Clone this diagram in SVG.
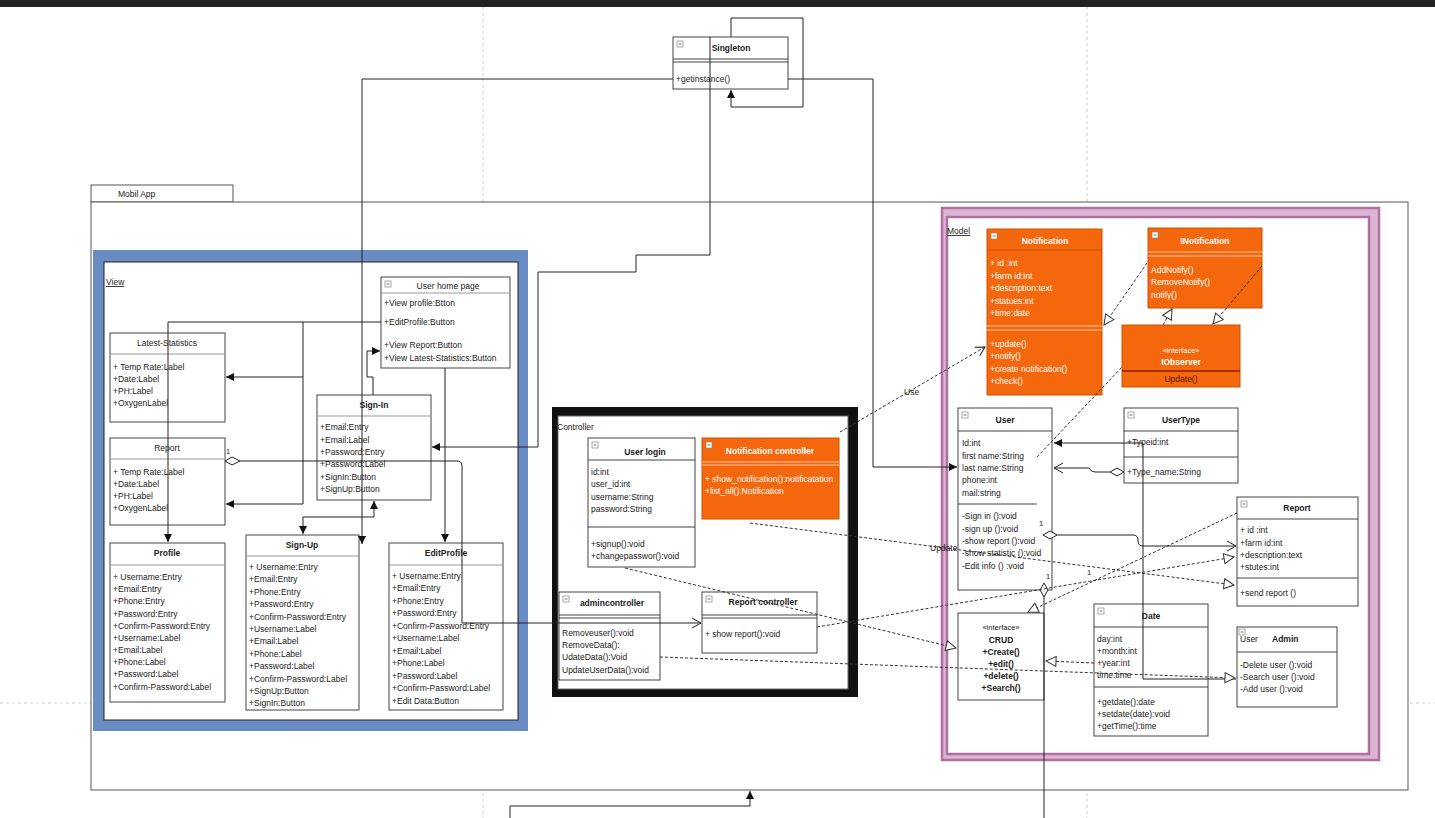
<svg xmlns="http://www.w3.org/2000/svg" width="1435" height="818" viewBox="0 0 1435 818">
  <defs>
    <style>
      .t{font-family:"Liberation Sans",Arial,sans-serif;font-size:8.5px;fill:#222}
      .b{font-weight:bold}
      .c{text-anchor:middle}
      .w{fill:#fff}
      .box{fill:#fff;stroke:#444;stroke-width:1}
      .obox{fill:#f4670c;stroke:#c95500;stroke-width:1}
      .hl{stroke:#999;stroke-width:1}
      .hd{stroke:#444;stroke-width:1}
      .ol{stroke:#f8c3a0;stroke-width:1}
      .ln{fill:none;stroke:#222;stroke-width:1}
      .dl{fill:none;stroke:#333;stroke-width:1;stroke-dasharray:3 2}
      .guide{stroke:#cfcfcf;stroke-width:1;stroke-dasharray:3 3}
    </style>
    <marker id="af" markerUnits="userSpaceOnUse" markerWidth="9" markerHeight="8" refX="8" refY="4" orient="auto-start-reverse">
      <path d="M0,0 L8,4 L0,8 z" fill="#111"/>
    </marker>
    <marker id="ao" markerUnits="userSpaceOnUse" markerWidth="12" markerHeight="12" refX="10" refY="6" orient="auto">
      <path d="M1,1 L10,6 L1,11" fill="none" stroke="#222" stroke-width="1"/>
    </marker>
    <marker id="th" markerUnits="userSpaceOnUse" markerWidth="12" markerHeight="12" refX="11" refY="6" orient="auto">
      <path d="M1,1 L11,6 L1,11 z" fill="#fff" stroke="#333" stroke-width="1"/>
    </marker>
    <g id="mi"><rect x="0" y="0" width="6" height="6" fill="#fff" stroke="#888" stroke-width="0.7"/><line x1="1.5" y1="3" x2="4.5" y2="3" stroke="#555" stroke-width="0.8"/></g>
  </defs>

  <!-- canvas -->
  <rect x="0" y="0" width="1435" height="818" fill="#fff"/>
  <rect x="0" y="0" width="1435" height="7" fill="#222"/>
  <line class="guide" x1="483" y1="7" x2="483" y2="818"/>
  <line class="guide" x1="1087" y1="7" x2="1087" y2="818"/>
  <line class="guide" x1="0" y1="703" x2="1435" y2="703"/>

  <!-- Mobil App package -->
  <g id="pkg-mobil-app">
    <rect x="91" y="185" width="142" height="17" fill="#fff" stroke="#555"/>
    <text class="t" x="118" y="197">Mobil App</text>
    <rect x="91" y="202" width="1317" height="588" fill="#fff" stroke="#555"/>
  </g>

  <!-- View package -->
  <g id="pkg-view">
    <rect x="93" y="250" width="435" height="481" fill="#6a8cc4"/>
    <rect x="104" y="262" width="414" height="458" fill="#fff" stroke="#222"/>
    <text class="t" x="106" y="285" text-decoration="underline">View</text>
  </g>

  <!-- Controller package -->
  <g id="pkg-controller">
    <rect x="552" y="407" width="306" height="290" fill="#111"/>
    <rect x="558" y="416" width="290" height="273" fill="#fff" stroke="#666"/>
    <text class="t" x="557" y="430">Controller</text>
  </g>

  <!-- Model package -->
  <g id="pkg-model">
    <rect x="942" y="208" width="437" height="552" fill="#dcb5d2" stroke="#b06fa0" stroke-width="2.5"/>
    <rect x="947" y="217" width="422" height="537" fill="#fff" stroke="#b06fa0" stroke-width="2.5"/>
    <text class="t" x="947" y="234" text-decoration="underline">Model</text>
  </g>

  <!-- Singleton -->
  <g id="singleton">
    <rect class="box" x="673" y="37" width="115" height="52"/>
    <use href="#mi" x="677" y="41"/>
    <line class="hd" x1="673" y1="59" x2="788" y2="59"/>
    <line class="hd" x1="673" y1="62" x2="788" y2="62"/>
    <text class="t b c" x="731" y="51">Singleton</text>
    <text class="t" x="676" y="82">+getinstance()</text>
  </g>

  <!-- View classes -->
  <g id="user-home-page">
    <rect class="box" x="381" y="277" width="129" height="91"/>
    <use href="#mi" x="385" y="281"/>
    <line class="hl" x1="381" y1="293" x2="510" y2="293"/>
    <text class="t c" x="448" y="289">User home page</text>
    <text class="t" x="384" y="306">+View profile:Btton</text>
    <text class="t" x="384" y="325">+EditProfile:Button</text>
    <text class="t" x="384" y="348">+View Report:Button</text>
    <text class="t" x="384" y="361">+View Latest-Statistics:Button</text>
  </g>

  <g id="latest-statistics">
    <rect class="box" x="110" y="333" width="115" height="89"/>
    <line class="hl" x1="110" y1="354" x2="225" y2="354"/>
    <text class="t c" x="167" y="346">Latest-Statistics</text>
    <text class="t" x="113" y="370">+ Temp Rate:Label</text>
    <text class="t" x="113" y="382">+Date:Label</text>
    <text class="t" x="113" y="394">+PH:Label</text>
    <text class="t" x="113" y="406">+OxygenLabel</text>
  </g>

  <g id="view-report">
    <rect class="box" x="110" y="438" width="115" height="87"/>
    <line class="hl" x1="110" y1="459" x2="225" y2="459"/>
    <text class="t c" x="167" y="451">Report</text>
    <text class="t" x="113" y="475">+ Temp Rate:Label</text>
    <text class="t" x="113" y="487">+Date:Label</text>
    <text class="t" x="113" y="499">+PH:Label</text>
    <text class="t" x="113" y="511">+OxygenLabel</text>
  </g>

  <g id="sign-in">
    <rect class="box" x="317" y="395" width="114" height="105"/>
    <line class="hl" x1="317" y1="416" x2="431" y2="416"/>
    <text class="t b c" x="374" y="408">Sign-In</text>
    <text class="t" x="320" y="430">+Email:Entry</text>
    <text class="t" x="320" y="443">+Email:Label</text>
    <text class="t" x="320" y="455">+Password:Entry</text>
    <text class="t" x="320" y="467">+Password:Label</text>
    <text class="t" x="320" y="480">+SignIn:Button</text>
    <text class="t" x="320" y="492">+SignUp:Button</text>
  </g>

  <g id="profile">
    <rect class="box" x="110" y="543" width="115" height="159"/>
    <line class="hl" x1="110" y1="565" x2="225" y2="565"/>
    <text class="t b c" x="167" y="556">Profile</text>
    <text class="t" x="113" y="580">+ Username:Entry</text>
    <text class="t" x="113" y="592">+Email:Entry</text>
    <text class="t" x="113" y="604">+Phone:Entry</text>
    <text class="t" x="113" y="617">+Password:Entry</text>
    <text class="t" x="113" y="629">+Confirm-Password:Entry</text>
    <text class="t" x="113" y="641">+Username:Label</text>
    <text class="t" x="113" y="653">+Email:Label</text>
    <text class="t" x="113" y="665">+Phone:Label</text>
    <text class="t" x="113" y="677">+Password:Label</text>
    <text class="t" x="113" y="690">+Confirm-Password:Label</text>
  </g>

  <g id="sign-up">
    <rect class="box" x="246" y="535" width="113" height="175"/>
    <line class="hl" x1="246" y1="556" x2="359" y2="556"/>
    <text class="t b c" x="302" y="548">Sign-Up</text>
    <text class="t" x="249" y="570">+ Username:Entry</text>
    <text class="t" x="249" y="582">+Email:Entry</text>
    <text class="t" x="249" y="595">+Phone:Entry</text>
    <text class="t" x="249" y="607">+Password:Entry</text>
    <text class="t" x="249" y="620">+Confirm-Password:Entry</text>
    <text class="t" x="249" y="632">+Username:Label</text>
    <text class="t" x="249" y="644">+Email:Label</text>
    <text class="t" x="249" y="657">+Phone:Label</text>
    <text class="t" x="249" y="669">+Password:Label</text>
    <text class="t" x="249" y="682">+Confirm-Password:Label</text>
    <text class="t" x="249" y="694">+SignUp:Button</text>
    <text class="t" x="249" y="706">+SignIn:Button</text>
  </g>

  <g id="edit-profile">
    <rect class="box" x="389" y="543" width="114" height="167"/>
    <line class="hl" x1="389" y1="565" x2="503" y2="565"/>
    <text class="t b c" x="446" y="556">EditProfile</text>
    <text class="t" x="392" y="579">+ Username:Entry</text>
    <text class="t" x="392" y="591">+Email:Entry</text>
    <text class="t" x="392" y="604">+Phone:Entry</text>
    <text class="t" x="392" y="616">+Password:Entry</text>
    <text class="t" x="392" y="629">+Confirm-Password:Entry</text>
    <text class="t" x="392" y="641">+Username:Label</text>
    <text class="t" x="392" y="654">+Email:Label</text>
    <text class="t" x="392" y="666">+Phone:Label</text>
    <text class="t" x="392" y="679">+Password:Label</text>
    <text class="t" x="392" y="691">+Confirm-Password:Label</text>
    <text class="t" x="392" y="704">+Edit Data:Button</text>
  </g>

  <!-- Controller classes -->
  <g id="user-login">
    <rect class="box" x="588" y="438" width="107" height="129"/>
    <use href="#mi" x="592" y="442"/>
    <line class="hd" x1="588" y1="460" x2="695" y2="460"/>
    <text class="t b c" x="645" y="455">User login</text>
    <text class="t" x="591" y="475">id:int</text>
    <text class="t" x="591" y="487">user_id:int</text>
    <text class="t" x="591" y="500">username:String</text>
    <text class="t" x="591" y="512">password:String</text>
    <line class="hd" x1="588" y1="527" x2="695" y2="527"/>
    <text class="t" x="591" y="547">+signup():void</text>
    <text class="t" x="591" y="559">+changepasswor():void</text>
  </g>

  <g id="notification-controller">
    <rect class="obox" x="702" y="438" width="137" height="81"/>
    <use href="#mi" x="706" y="442"/>
    <line class="ol" x1="702" y1="462" x2="839" y2="462"/>
    <line class="ol" x1="702" y1="465" x2="839" y2="465"/>
    <text class="t b c w" x="770" y="454">Notification controller</text>
    <text class="t w" x="705" y="482">+ show_notification():notificatation</text>
    <text class="t w" x="705" y="494">+list_all():Notification</text>
  </g>

  <g id="admincontroller">
    <rect class="box" x="559" y="592" width="101" height="88"/>
    <use href="#mi" x="563" y="596"/>
    <line class="hd" x1="559" y1="615" x2="660" y2="615"/>
    <line class="hd" x1="559" y1="618" x2="660" y2="618"/>
    <text class="t b c" x="612" y="606">admincontroller</text>
    <text class="t" x="562" y="636">Removeuser():void</text>
    <text class="t" x="562" y="648">RemoveData():</text>
    <text class="t" x="562" y="660">UdateData():Void</text>
    <text class="t" x="562" y="673">UpdateUserData():void</text>
  </g>

  <g id="report-controller">
    <rect class="box" x="702" y="592" width="115" height="61"/>
    <use href="#mi" x="706" y="596"/>
    <line class="hd" x1="702" y1="615" x2="817" y2="615"/>
    <line class="hd" x1="702" y1="618" x2="817" y2="618"/>
    <text class="t b c" x="763" y="605">Report controller</text>
    <text class="t" x="705" y="637">+ show report():void</text>
  </g>

  <!-- Model classes -->
  <g id="notification">
    <rect class="obox" x="987" y="229" width="115" height="166"/>
    <use href="#mi" x="991" y="233"/>
    <line x1="987" y1="250" x2="1102" y2="250" stroke="#c95500"/>
    <text class="t b c w" x="1045" y="244">Notification</text>
    <text class="t w" x="990" y="266">+ id :int</text>
    <text class="t w" x="990" y="279">+farm id:int</text>
    <text class="t w" x="990" y="291">+description:text</text>
    <text class="t w" x="990" y="304">+statues:int</text>
    <text class="t w" x="990" y="316">+time:date</text>
    <line class="ol" x1="987" y1="326" x2="1102" y2="326"/>
    <line class="ol" x1="987" y1="330" x2="1102" y2="330"/>
    <text class="t w" x="990" y="347">+update()</text>
    <text class="t w" x="990" y="359">+notify()</text>
    <text class="t w" x="990" y="372">+create notification()</text>
    <text class="t w" x="990" y="384">+check()</text>
  </g>

  <g id="inotification">
    <rect class="obox" x="1148" y="228" width="114" height="80"/>
    <use href="#mi" x="1152" y="232"/>
    <line class="ol" x1="1148" y1="252" x2="1262" y2="252"/>
    <line class="ol" x1="1148" y1="256" x2="1262" y2="256"/>
    <text class="t b c w" x="1205" y="244">INotification</text>
    <text class="t w" x="1151" y="273">AddNotify()</text>
    <text class="t w" x="1151" y="285">RemoveNotify()</text>
    <text class="t w" x="1151" y="298">notify()</text>
  </g>

  <g id="iobserver">
    <rect class="obox" x="1122" y="325" width="118" height="62"/>
    <text class="t c w" x="1181" y="353" style="font-size:7.5px">«interface»</text>
    <text class="t b c w" x="1181" y="365">IObserver</text>
    <line x1="1122" y1="371" x2="1240" y2="371" stroke="#8a1a00" stroke-width="1.5"/>
    <text class="t c" x="1181" y="382" style="fill:#5a1500">Update()</text>
  </g>

  <g id="user">
    <rect class="box" x="958" y="408" width="94" height="182"/>
    <use href="#mi" x="962" y="412"/>
    <line class="hd" x1="958" y1="431" x2="1052" y2="431"/>
    <text class="t b c" x="1005" y="423">User</text>
    <text class="t" x="962" y="446">Id:int</text>
    <text class="t" x="962" y="459">first name:String</text>
    <text class="t" x="962" y="471">last name:String</text>
    <text class="t" x="962" y="483">phone:int</text>
    <text class="t" x="962" y="496">mail:string</text>
    <line class="hd" x1="958" y1="504" x2="1037" y2="504"/>
    <text class="t" x="962" y="519">-Sign in ():void</text>
    <text class="t" x="962" y="532">-sign up ():void</text>
    <text class="t" x="962" y="544">-show report ():void</text>
    <text class="t" x="962" y="556">-show statistic ():void</text>
    <text class="t" x="962" y="569">-Edit info () :void</text>
  </g>

  <g id="user-type">
    <rect class="box" x="1124" y="408" width="114" height="75"/>
    <use href="#mi" x="1128" y="412"/>
    <line class="hd" x1="1124" y1="431" x2="1238" y2="431"/>
    <text class="t b c" x="1181" y="423">UserType</text>
    <text class="t" x="1127" y="445">+Typeid:int</text>
    <line class="hd" x1="1124" y1="457" x2="1238" y2="457"/>
    <text class="t" x="1127" y="475">+Type_name:String</text>
  </g>

  <g id="model-report">
    <rect class="box" x="1237" y="497" width="121" height="109"/>
    <use href="#mi" x="1241" y="501"/>
    <line class="hd" x1="1237" y1="519" x2="1358" y2="519"/>
    <text class="t b c" x="1297" y="511">Report</text>
    <text class="t" x="1240" y="533">+ id :int</text>
    <text class="t" x="1240" y="546">+farm id:int</text>
    <text class="t" x="1240" y="558">+description:text</text>
    <text class="t" x="1240" y="570">+stutes:int</text>
    <line class="hd" x1="1237" y1="578" x2="1358" y2="578"/>
    <text class="t" x="1240" y="596">+send report ()</text>
  </g>

  <g id="crud">
    <rect class="box" x="958" y="613" width="86" height="87"/>
    <text class="t c" x="1001" y="630" style="font-size:7.5px">«interface»</text>
    <text class="t b c" x="1001" y="643">CRUD</text>
    <text class="t b c" x="1001" y="655">+Create()</text>
    <text class="t b c" x="1001" y="667">+edit()</text>
    <text class="t b c" x="1001" y="679">+delete()</text>
    <text class="t b c" x="1001" y="691">+Search()</text>
  </g>

  <g id="date">
    <rect class="box" x="1094" y="604" width="114" height="132"/>
    <use href="#mi" x="1098" y="608"/>
    <line class="hd" x1="1094" y1="627" x2="1208" y2="627"/>
    <text class="t b c" x="1151" y="619">Date</text>
    <text class="t" x="1097" y="642">day:int</text>
    <text class="t" x="1097" y="654">+month:int</text>
    <text class="t" x="1097" y="666">+year:int</text>
    <text class="t" x="1097" y="678">time:time</text>
    <line class="hd" x1="1094" y1="687" x2="1208" y2="687"/>
    <text class="t" x="1097" y="705">+getdate():date</text>
    <text class="t" x="1097" y="717">+setdate(date):void</text>
    <text class="t" x="1097" y="729">+getTime():time</text>
  </g>

  <g id="user-admin">
    <rect class="box" x="1237" y="627" width="100" height="80"/>
    <use href="#mi" x="1239" y="629"/>
    <line class="hd" x1="1237" y1="652" x2="1337" y2="652"/>
    <text class="t" x="1240" y="642">User</text>
    <text class="t b" x="1272" y="642">Admin</text>
    <text class="t" x="1240" y="668">-Delete user ():void</text>
    <text class="t" x="1240" y="680">-Search user ():void</text>
    <text class="t" x="1240" y="692">-Add user ():void</text>
  </g>

  <!-- connectors -->
  <g id="connectors">
    <!-- Singleton -->
    <path class="ln" d="M731,37 V18 H803 V107 H731 V90" marker-end="url(#af)"/>
    <path class="ln" d="M673,79 H362 V544" marker-end="url(#af)"/>
    <path class="ln" d="M788,79 H873 V467 H957" marker-end="url(#af)"/>
    <path class="ln" d="M710,37 V255 H636 V272 H538 V447 H432" marker-end="url(#af)"/>
    <path class="ln" d="M510,818 V806 H750 V791" marker-end="url(#af)"/>

    <!-- View -->
    <path class="ln" d="M381,322 H303" stroke-width="2"/>
    <path class="ln" d="M303,322 V377 H226" marker-end="url(#af)"/>
    <path class="ln" d="M303,377 V504 H226" marker-end="url(#af)"/>
    <path class="ln" d="M303,322 H168 V542" marker-end="url(#af)"/>
    <path class="ln" d="M373,395 V377 H367 V351 H380" marker-end="url(#af)"/>
    <path class="ln" d="M303,534 V517 H374 V501" stroke-width="1.6" marker-start="url(#af)" marker-end="url(#af)"/>
    <path class="ln" d="M445,368 V542" marker-end="url(#af)"/>
    <polygon points="225,461 232,457 240,461 232,465" fill="#fff" stroke="#222"/>
    <path class="ln" d="M240,461 H457 Q462,461 462,466 V623 H701" marker-end="url(#ao)"/>
    <text class="t" x="226" y="454" style="font-size:7.5px">1</text>

    <!-- Model: solid associations -->
    <path class="ln" d="M1236,679 H1143 V443 H1054" marker-end="url(#af)"/>
    <polygon points="1124,472 1117,468 1110,472 1117,476" fill="#fff" stroke="#222"/>
    <path class="ln" d="M1110,472 H1095 Q1091,472 1089,468 H1054" marker-end="url(#ao)"/>
    <polygon points="1043,535 1050,531 1057,535 1050,539" fill="#fff" stroke="#222"/>
    <path class="ln" d="M1057,535 H1133 Q1138,535 1138,540 V541 Q1138,546 1143,546 H1236" marker-end="url(#ao)"/>
    <text class="t" x="1039" y="526" style="font-size:7.5px">1</text>
    <polygon points="1044,583 1048,590 1044,597 1040,590" fill="#fff" stroke="#222"/>
    <path class="ln" d="M1044,597 V818"/>
    <text class="t" x="1046" y="579" style="font-size:7.5px">1</text>
    <text class="t" x="1087" y="575" style="font-size:7.5px">1</text>

    <!-- dependencies / realizations -->
    <path class="dl" d="M840,432 L985,347" marker-end="url(#ao)"/>
    <text class="t" x="904" y="395">Use</text>
    <path class="dl" d="M1037,457 L1122,367"/>
    <path class="dl" d="M1147,263 L1104,325" marker-end="url(#th)"/>
    <path class="dl" d="M1163,325 L1172,309" marker-end="url(#th)"/>
    <path class="dl" d="M1262,266 L1213,324" marker-end="url(#th)"/>
    <path class="dl" d="M750,523 L1234,585" marker-end="url(#th)"/>
    <text class="t" x="930" y="551">Update</text>
    <path class="dl" d="M817,627 L1234,557" marker-end="url(#th)"/>
    <path class="dl" d="M1237,513 L1028,612" marker-end="url(#th)"/>
    <path class="dl" d="M625,568 L956,648" marker-end="url(#th)"/>
    <path class="dl" d="M660,657 L1235,678" marker-end="url(#th)"/>
    <path class="dl" d="M1094,663 L1046,661" marker-end="url(#th)"/>
  </g>
</svg>
